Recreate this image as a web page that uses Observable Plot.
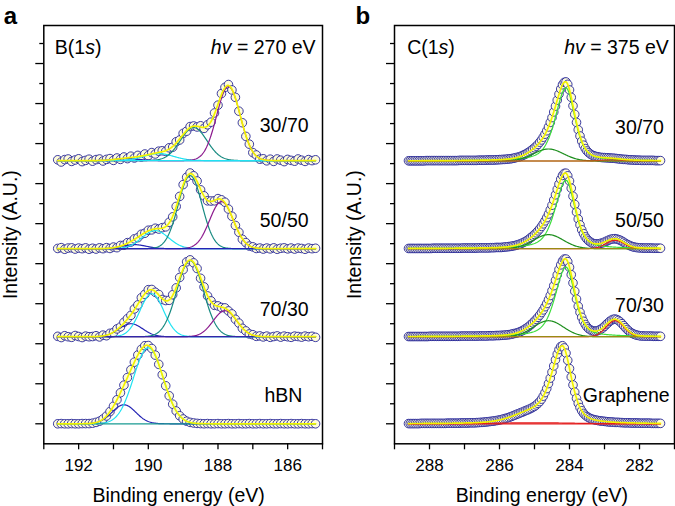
<!DOCTYPE html>
<html><head><meta charset="utf-8">
<script src="https://cdn.jsdelivr.net/npm/d3@7"></script>
<script src="https://cdn.jsdelivr.net/npm/@observablehq/plot@0.6"></script>
<style>
html,body{margin:0;padding:0;background:#fff;}
#wrap{position:relative;width:675px;height:506px;overflow:hidden;font-family:"Liberation Sans",Arial,Helvetica,sans-serif;}
#pa,#pb{position:absolute;top:0;}
#pa{left:0;} #pb{left:337px;}
svg text{font-family:"Liberation Sans",Arial,Helvetica,sans-serif;}
</style></head>
<body><div id="wrap"><div id="pa"></div><div id="pb"></div></div>
<script>
// ================= DATA =================
// ---- Panel a : B(1s), hv = 270 eV ----
const bSeries = ["hBN", "70/30", "50/50", "30/70"];
const bOffsets = [1.0, 5.35, 9.75, 14.15];
const bStartEnergy = 192.6, bEnergyStep = 0.1;   // eV, decreasing
const b_hBN = [
 0.00,0.01,0.00,0.00,0.01,0.00,0.00,0.01,0.01,0.01,
 0.03,0.07,0.13,0.24,0.39,0.61,0.88,1.20,1.55,1.93,
 2.31,2.70,3.08,3.44,3.72,3.90,3.91,3.76,3.43,2.97,
 2.45,1.90,1.40,0.98,0.64,0.40,0.24,0.13,0.07,0.04,
 0.02,0.01,0.00,0.01,0.00,0.00,0.01,0.00,0.00,0.01,
 0.00,0.00,0.01,0.00,0.00,0.01,0.00,0.00,0.01,0.00,
 0.00,0.01,0.00,0.00,0.01,0.00,0.00,0.01,0.00,0.00,
 0.01,0.00,0.00,0.01,0.00];
const b_7030 = [
 0.02,-0.04,0.05,0.00,-0.03,0.06,0.01,-0.04,0.03,0.00,
 0.01,0.05,-0.01,0.08,0.05,0.17,0.21,0.39,0.49,0.72,
 0.90,1.07,1.39,1.59,1.95,2.12,2.35,2.36,2.22,2.11,
 1.86,1.81,1.82,2.10,2.44,2.96,3.35,3.74,3.84,3.69,
 3.41,2.92,2.49,2.04,1.79,1.57,1.54,1.46,1.44,1.29,
 1.14,0.87,0.68,0.42,0.29,0.14,0.10,0.02,0.04,-0.01,
 0.03,-0.03,0.01,0.04,-0.02,0.03,0.00,-0.03,0.03,0.01,
 -0.02,0.03,0.00,0.02,-0.03];
const b_5050 = [
 0.01,0.05,-0.03,0.03,0.04,-0.02,0.03,0.00,0.04,-0.03,
 0.02,-0.02,0.04,0.00,0.05,0.01,0.08,0.05,0.16,0.17,
 0.30,0.33,0.49,0.55,0.72,0.77,0.92,0.94,1.02,0.98,
 1.05,1.09,1.32,1.59,2.11,2.61,3.20,3.57,3.78,3.64,
 3.38,2.94,2.64,2.39,2.38,2.39,2.50,2.44,2.32,1.98,
 1.62,1.16,0.82,0.47,0.30,0.13,0.09,0.01,0.03,-0.02,
 0.03,-0.01,0.04,-0.03,0.02,0.04,-0.01,0.03,-0.02,0.03,
 0.01,-0.03,0.03,0.00,0.02];
const b_3070 = [
 0.04,-0.07,0.05,0.08,-0.04,0.03,0.09,-0.05,0.01,0.07,
 -0.03,0.05,0.08,-0.02,0.06,0.10,0.01,0.13,0.06,0.18,
 0.10,0.22,0.13,0.26,0.18,0.33,0.25,0.40,0.33,0.47,
 0.49,0.46,0.64,0.67,0.94,1.03,1.36,1.47,1.70,1.73,
 1.68,1.74,1.61,1.79,1.92,2.38,2.77,3.35,3.66,3.80,
 3.53,3.16,2.47,1.89,1.21,0.82,0.40,0.28,0.07,0.09,
 -0.01,0.07,-0.04,0.08,0.02,-0.05,0.06,0.01,-0.03,0.08,
 0.02,-0.04,0.05,0.00,0.04];
const bIntensities = [b_hBN, b_7030, b_5050, b_3070];
// fitted Gaussian components (B 1s)
const bCompSeries = ["hBN","hBN","70/30","70/30","70/30","70/30","50/50","50/50","50/50","50/50","30/70","30/70","30/70","30/70"];
const bCompKind   = ["B4","B3","B4","B3","B2","B1","B4","B3","B2","B1","B4","B3","B2","B1"];
const bCompCenter = [190.7,190.0,190.5,189.9,188.8,187.8,190.4,189.8,188.8,187.9,190.6,189.7,188.7,187.7];
const bCompHeight = [0.95,3.8,0.65,2.15,3.8,1.3,0.2,0.9,3.65,2.35,0.1,0.35,1.65,3.7];
const bCompFwhm   = [0.8,1.0,0.8,0.8,0.9,0.8,0.8,0.9,0.8,0.8,0.8,1.0,0.9,0.8];

// ---- Panel b : C(1s), hv = 375 eV ----
const cSeries = ["Graphene", "70/30", "50/50", "30/70"];
const cOffsets = [1.0, 5.35, 9.75, 14.13];
const cStartEnergy = 288.6, cEnergyStep = 0.05;
const c_gr = [
 0.01,0.01,0.01,0.01,0.01,0.01,0.01,0.02,0.02,0.02,
 0.02,0.02,0.02,0.02,0.02,0.02,0.02,0.02,0.02,0.02,
 0.02,0.02,0.03,0.03,0.03,0.03,0.03,0.03,0.03,0.03,
 0.04,0.04,0.04,0.04,0.04,0.05,0.05,0.05,0.05,0.06,
 0.06,0.07,0.07,0.08,0.09,0.10,0.11,0.12,0.13,0.14,
 0.16,0.17,0.19,0.21,0.23,0.26,0.28,0.31,0.34,0.37,
 0.41,0.44,0.48,0.51,0.55,0.58,0.62,0.66,0.69,0.73,
 0.77,0.82,0.87,0.94,1.02,1.11,1.23,1.38,1.56,1.76,
 2.01,2.28,2.58,2.89,3.20,3.48,3.71,3.86,3.90,3.79,
 3.53,3.17,2.76,2.34,1.94,1.58,1.27,1.02,0.81,0.65,
 0.52,0.43,0.36,0.31,0.26,0.23,0.21,0.18,0.17,0.15,
 0.14,0.13,0.12,0.11,0.10,0.09,0.09,0.08,0.07,0.07,
 0.07,0.06,0.06,0.05,0.05,0.05,0.05,0.04,0.04,0.04,
 0.04,0.04,0.03,0.03,0.03,0.03,0.03,0.03,0.03,0.02,
 0.02,0.02,0.02,0.02,0.02];
const c_7030 = [
 0.01,0.01,0.01,0.01,0.01,0.01,0.01,0.01,0.01,0.01,
 0.01,0.01,0.02,0.02,0.02,0.02,0.02,0.02,0.02,0.02,
 0.02,0.02,0.02,0.02,0.02,0.02,0.02,0.02,0.02,0.02,
 0.03,0.03,0.03,0.03,0.03,0.03,0.03,0.03,0.03,0.03,
 0.04,0.04,0.04,0.04,0.04,0.04,0.05,0.05,0.05,0.05,
 0.06,0.06,0.06,0.07,0.07,0.08,0.09,0.10,0.11,0.13,
 0.15,0.17,0.19,0.22,0.26,0.30,0.35,0.41,0.46,0.53,
 0.61,0.69,0.78,0.87,0.97,1.08,1.21,1.34,1.50,1.66,
 1.85,2.06,2.30,2.55,2.82,3.09,3.36,3.59,3.78,3.88,
 3.88,3.75,3.47,3.10,2.69,2.27,1.88,1.52,1.22,0.97,
 0.77,0.61,0.49,0.40,0.34,0.30,0.28,0.28,0.30,0.33,
 0.38,0.44,0.52,0.61,0.69,0.77,0.83,0.87,0.88,0.86,
 0.81,0.74,0.65,0.55,0.45,0.36,0.28,0.21,0.16,0.12,
 0.09,0.07,0.05,0.04,0.04,0.03,0.03,0.03,0.03,0.03,
 0.02,0.02,0.02,0.02,0.02];
const c_5050 = [
 0.01,0.01,0.01,0.01,0.01,0.01,0.01,0.01,0.01,0.01,
 0.01,0.01,0.01,0.01,0.02,0.02,0.02,0.02,0.02,0.02,
 0.02,0.02,0.02,0.02,0.02,0.02,0.02,0.02,0.02,0.02,
 0.02,0.03,0.03,0.03,0.03,0.03,0.03,0.03,0.03,0.03,
 0.04,0.04,0.04,0.04,0.04,0.04,0.04,0.05,0.05,0.05,
 0.06,0.06,0.06,0.06,0.07,0.08,0.09,0.10,0.11,0.12,
 0.14,0.16,0.18,0.21,0.24,0.28,0.32,0.37,0.42,0.49,
 0.56,0.63,0.71,0.79,0.89,0.99,1.11,1.24,1.39,1.55,
 1.73,1.94,2.17,2.43,2.69,2.97,3.23,3.47,3.66,3.76,
 3.77,3.64,3.38,3.02,2.62,2.21,1.83,1.48,1.19,0.94,
 0.75,0.59,0.48,0.39,0.33,0.28,0.25,0.24,0.24,0.24,
 0.27,0.29,0.33,0.37,0.41,0.45,0.48,0.49,0.50,0.48,
 0.45,0.42,0.37,0.32,0.26,0.21,0.17,0.13,0.10,0.08,
 0.06,0.05,0.04,0.04,0.03,0.03,0.03,0.03,0.03,0.03,
 0.02,0.02,0.02,0.02,0.02];
const c_3070 = [
 0.01,0.01,0.01,0.01,0.01,0.01,0.01,0.01,0.01,0.01,
 0.02,0.02,0.02,0.02,0.02,0.02,0.02,0.02,0.02,0.02,
 0.02,0.02,0.02,0.02,0.02,0.02,0.02,0.02,0.02,0.03,
 0.03,0.03,0.03,0.03,0.03,0.03,0.03,0.03,0.03,0.03,
 0.04,0.04,0.04,0.04,0.04,0.05,0.05,0.05,0.05,0.05,
 0.06,0.06,0.07,0.07,0.08,0.08,0.09,0.10,0.11,0.12,
 0.14,0.16,0.18,0.20,0.23,0.27,0.31,0.35,0.40,0.46,
 0.52,0.59,0.66,0.74,0.83,0.94,1.05,1.19,1.34,1.51,
 1.70,1.93,2.17,2.45,2.74,3.04,3.34,3.60,3.81,3.93,
 3.95,3.83,3.55,3.18,2.76,2.33,1.93,1.56,1.25,0.99,
 0.79,0.62,0.50,0.41,0.34,0.29,0.26,0.23,0.21,0.19,
 0.18,0.17,0.17,0.16,0.16,0.15,0.14,0.14,0.13,0.12,
 0.11,0.10,0.09,0.08,0.08,0.07,0.06,0.06,0.05,0.05,
 0.04,0.04,0.04,0.03,0.03,0.03,0.03,0.03,0.03,0.03,
 0.03,0.02,0.02,0.02,0.02];
const cIntensities = [c_gr, c_7030, c_5050, c_3070];
// fitted components (C 1s); "sp2"/"asym" use the asymmetric line shape
const cCompSeries = ["Graphene","Graphene","Graphene","70/30","70/30","70/30","50/50","50/50","50/50","30/70","30/70","30/70"];
const cCompKind   = ["asym","tail","C3","sp2","C2","C3","sp2","C2","C3","sp2","C2","C3"];
const cCompCenter = [284.2,285.0,285.0,284.1,284.6,282.7,284.1,284.6,282.7,284.1,284.6,282.8];
const cCompHeight = [3.7,0.45,0.05,3.48,0.8,0.8,3.42,0.7,0.42,3.65,0.6,0.05];
const cCompFwhm   = [0,1.3,2.5,0,1.0,0.6,0,1.0,0.6,0,1.0,0.7];
const asymHwHigh = 0.36, asymHwLow = 0.30, asymEta = 0.5;

// ================= STYLE / LAYOUT =================
const FONT = '"Liberation Sans", Arial, Helvetica, sans-serif';
const compColor = {B4:"#2424b4", B3:"#1fe3f2", B2:"#178a80", B1:"#8c1a8e",
                   sp2:"#3ade3a", C2:"#1e8f1e", C3:"#e41c1c", asym:null, tail:null};
const bBaseColor = {"hBN":"#1a9a92","70/30":"#3326a8","50/50":"#2424b4","30/70":"#1fe3f2"};
const cBaseColor = {"Graphene":"#e41c1c","70/30":"#9a8a12","50/50":"#9a8a12","30/70":"#9a8a12"};

// ================= MODEL =================
const LN2 = Math.LN2;
function gauss(E, c, h, w) { return h * Math.exp(-4 * LN2 * (E - c) ** 2 / (w * w)); }
function asymShape(E, c, h) {
  const d = E - c, hw = d >= 0 ? asymHwHigh : asymHwLow, t = (d / hw) ** 2;
  return h * ((1 - asymEta) * Math.exp(-LN2 * t) + asymEta / (1 + t));
}
function compValue(kind, E, c, h, w) {
  return (kind === "sp2" || kind === "asym") ? asymShape(E, c, h) : gauss(E, c, h, w);
}

function buildLayers(series, offsets, start, step, intens, cs, ck, cc, ch, cw, baseColor) {
  const circles = [], comps = [], bases = [], fits = [];
  series.forEach((s, i) => {
    const vals = intens[i], off = offsets[i];
    vals.forEach((v, k) => circles.push({E: start - k * step, y: off + v}));
    const n = vals.length, sub = 0.02;
    const span = (n - 1) * step;
    const fine = d3.range(0, Math.round(span / sub) + 1).map(j => start - j * sub);
    const idx = cs.map((x, j) => x === s ? j : -1).filter(j => j >= 0);
    idx.forEach(j => {
      if (!compColor[ck[j]]) return;
      fine.forEach(E => comps.push({id: s + j, E, y: off + compValue(ck[j], E, cc[j], ch[j], cw[j]), color: compColor[ck[j]]}));
    });
    bases.push({id: s, E: fine[0], y: off, color: baseColor[s]}, {id: s, E: fine[fine.length - 1], y: off, color: baseColor[s]});
    fine.forEach(E => {
      let t = 0; idx.forEach(j => t += compValue(ck[j], E, cc[j], ch[j], cw[j]));
      fits.push({id: s, E, y: off + t});
    });
  });
  return {circles, comps, bases, fits};
}

function panel(cfg) {
  const L = buildLayers(cfg.series, cfg.offsets, cfg.start, cfg.step, cfg.intens, cfg.cs, cfg.ck, cfg.cc, cfg.ch, cfg.cw, cfg.baseColor);
  const labels = cfg.series.map((s, i) => ({label: s, E: cfg.labelX[s], y: cfg.offsets[i] + cfg.labelDY[s]}));
  const oddT = d3.range(1, 20, 2), evenT = d3.range(2, 21, 2);
  return Plot.plot({
    width: cfg.width, height: 506,
    marginLeft: cfg.ml, marginRight: cfg.mr, marginTop: 25, marginBottom: 62.7,
    x: {domain: cfg.domain, axis: null}, y: {domain: [0, 20.9], axis: null},
    color: {type: "identity"},
    style: {fontFamily: FONT, background: "transparent", overflow: "visible"},
    marks: [
      Plot.dot(L.circles, {x: "E", y: "y", r: cfg.r, fill: "#fefcda", stroke: "#25259a", strokeWidth: 0.9}),
      Plot.line(L.comps, {x: "E", y: "y", z: "id", stroke: d => d.color, strokeWidth: 1.2}),
      Plot.line(L.bases, {x: "E", y: "y", z: "id", stroke: d => d.color, strokeWidth: 1.2}),
      Plot.line(L.fits, {x: "E", y: "y", z: "id", stroke: "#f2f200", strokeWidth: 1.7}),
      Plot.frame({stroke: "black", strokeWidth: 1.5}),
      Plot.axisX({ticks: cfg.xticks, tickSize: 6, tickPadding: 9, strokeWidth: 1.3,
                  tickFormat: d => d % 2 === 0 ? String(d) : "", fontSize: 17, label: null}),
      Plot.axisY({ticks: oddT, tickSize: 8, strokeWidth: 1.3, tickFormat: () => "", label: null}),
      Plot.axisY({ticks: evenT, tickSize: 4, strokeWidth: 1.3, tickFormat: () => "", label: null}),
      Plot.text(labels, {x: "E", y: "y", text: "label", fontSize: 19.5, textAnchor: "middle", lineAnchor: "middle"}),
      Plot.text([cfg.core], {frameAnchor: "top-left", dx: cfg.coreDx, dy: 14.5, fontSize: 19.5, lineAnchor: "top", textAnchor: "start"}),
      Plot.text([cfg.hv], {frameAnchor: "top-right", dx: cfg.hvDx, dy: 14.5, fontSize: 19.5, lineAnchor: "top", textAnchor: "end"}),
      Plot.text([cfg.letter], {frameAnchor: "top-left", dx: cfg.letterDx, dy: -9.4, fontSize: 24, fontWeight: "bold", lineAnchor: "middle", textAnchor: "start"}),
      Plot.text(["Binding energy (eV)"], {frameAnchor: "bottom", dx: cfg.xtDx, dy: 52, fontSize: 19.5, lineAnchor: "middle"}),
      Plot.text(["Intensity (A.U.)"], {frameAnchor: "left", dx: cfg.ytDx, rotate: -90, fontSize: 19.5, lineAnchor: "middle", textAnchor: "middle"})
    ]
  });
}

function italicize(svg) {
  svg.querySelectorAll("text").forEach(t => {
    const s = t.textContent;
    if (/^[BC]\(1s\)$/.test(s)) t.innerHTML = s[0] + '(1<tspan font-style="italic">s</tspan>)';
    else if (/^hv = /.test(s)) t.innerHTML = '<tspan font-style="italic">hv</tspan>' + s.slice(2);
  });
}

const pa = panel({
  series: bSeries, offsets: bOffsets, start: bStartEnergy, step: bEnergyStep, intens: bIntensities,
  cs: bCompSeries, ck: bCompKind, cc: bCompCenter, ch: bCompHeight, cw: bCompFwhm, baseColor: bBaseColor,
  width: 337, ml: 43.3, mr: 15, domain: [193, 185], xticks: d3.range(185, 194), r: 4.3,
  labelX: {"hBN": 186.12, "70/30": 186.1, "50/50": 186.1, "30/70": 186.1},
  labelDY: {"hBN": 1.39, "70/30": 1.36, "50/50": 1.37, "30/70": 1.73},
  core: "B(1s)", coreDx: 11, hv: "hv = 270 eV", hvDx: -7, letter: "a", letterDx: -40, xtDx: -4.5, ytDx: -33
});
const pb = panel({
  series: cSeries, offsets: cOffsets, start: cStartEnergy, step: cEnergyStep, intens: cIntensities,
  cs: cCompSeries, ck: cCompKind, cc: cCompCenter, ch: cCompHeight, cw: cCompFwhm, baseColor: cBaseColor,
  width: 338, ml: 57, mr: 1, domain: [289, 281], xticks: d3.range(281, 290), r: 4.3,
  labelX: {"Graphene": 282.38, "70/30": 282.0, "50/50": 282.0, "30/70": 282.0},
  labelDY: {"Graphene": 1.39, "70/30": 1.53, "50/50": 1.37, "30/70": 1.68},
  core: "C(1s)", coreDx: 12.7, hv: "hv = 375 eV", hvDx: -5.7, letter: "b", letterDx: -39, xtDx: 7.3, ytDx: -40
});
italicize(pa); italicize(pb);
document.getElementById("pa").appendChild(pa);
document.getElementById("pb").appendChild(pb);
</script>
</body></html>
